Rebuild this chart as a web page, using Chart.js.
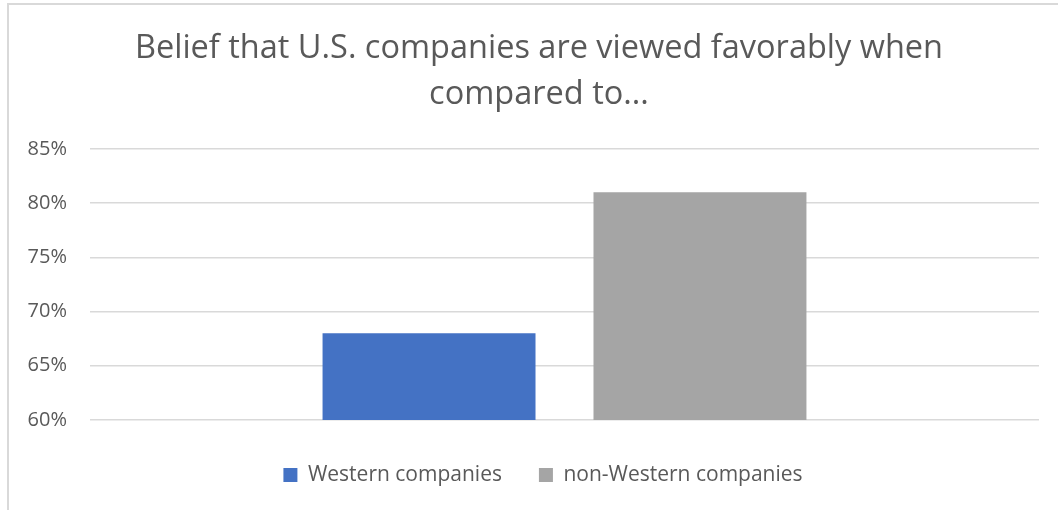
<!DOCTYPE html>
<html>
<head>
<meta charset="utf-8">
<script src="https://cdn.jsdelivr.net/npm/chart.js@4/dist/chart.umd.min.js"></script>
<style>
  html, body { margin: 0; padding: 0; background: #fff; overflow: hidden; }
  #wrap { position: relative; width: 1058px; height: 510px; }
  #frame { position: absolute; left: 7px; top: 3px; width: 1200px; height: 600px;
           border-left: 2px solid #d9d9d9; border-top: 2px solid #d9d9d9; pointer-events: none; }
  canvas { position: absolute; left: 0; top: 0; }
</style>
</head>
<body>
<div id="wrap">
  <canvas id="c" width="1058" height="510"></canvas>
  <div id="frame"></div>
</div>
<script>
const titleLines = ['Belief that U.S. companies are viewed favorably when', 'compared to...'];
const categories = [''];
const seriesNames = ['Western companies', 'non-Western companies'];
const westernValues = [0.68];
const nonWesternValues = [0.81];
const yMin = 0.60;
const yMax = 0.85;
const yStep = 0.05;

const textColor = '#595959';
const fontFamily = "'Open Sans', sans-serif";

// shift title and legend horizontally to match the original centring
const shiftBlocks = {
  id: 'shiftBlocks',
  afterLayout(chart) {
    const t = chart.titleBlock;
    if (t) { t.left += 9.5; t.right += 9.5; }
    const l = chart.legend;
    if (l) { l.left += 13.5; l.right += 13.5; }
  }
};

new Chart(document.getElementById('c'), {
  type: 'bar',
  data: {
    labels: categories,
    datasets: [
      { label: seriesNames[0], data: westernValues, backgroundColor: '#4472C4',
        categoryPercentage: 0.571, barPercentage: 0.786 },
      { label: seriesNames[1], data: nonWesternValues, backgroundColor: '#A5A5A5',
        categoryPercentage: 0.571, barPercentage: 0.786 }
    ]
  },
  plugins: [shiftBlocks],
  options: {
    responsive: false,
    animation: false,
    layout: { padding: { left: 20, right: 19, top: 0, bottom: 14.5 } },
    plugins: {
      title: {
        display: true,
        text: titleLines,
        color: textColor,
        font: { family: fontFamily, size: 32.5, weight: 'normal', lineHeight: 1.415 },
        padding: { top: 25.5, bottom: 31.5 }
      },
      legend: {
        position: 'bottom',
        labels: {
          color: textColor,
          font: { family: fontFamily, size: 21 },
          boxWidth: 14, boxHeight: 14,
          padding: 37
        }
      },
      tooltip: { enabled: false }
    },
    scales: {
      x: {
        grid: { display: false },
        ticks: { display: false },
        border: { display: false },
        afterFit: (s) => { s.height = 7.5; }
      },
      y: {
        min: yMin, max: yMax,
        ticks: {
          stepSize: yStep,
          color: textColor,
          font: { family: fontFamily, size: 20 },
          padding: 23,
          callback: (v) => Math.round(v * 100) + '%'
        },
        grid: { color: '#d9d9d9', lineWidth: 1.5, drawTicks: false },
        border: { display: false },
        afterFit: (s) => { s.width = 70; }
      }
    }
  }
});
</script>
</body>
</html>
